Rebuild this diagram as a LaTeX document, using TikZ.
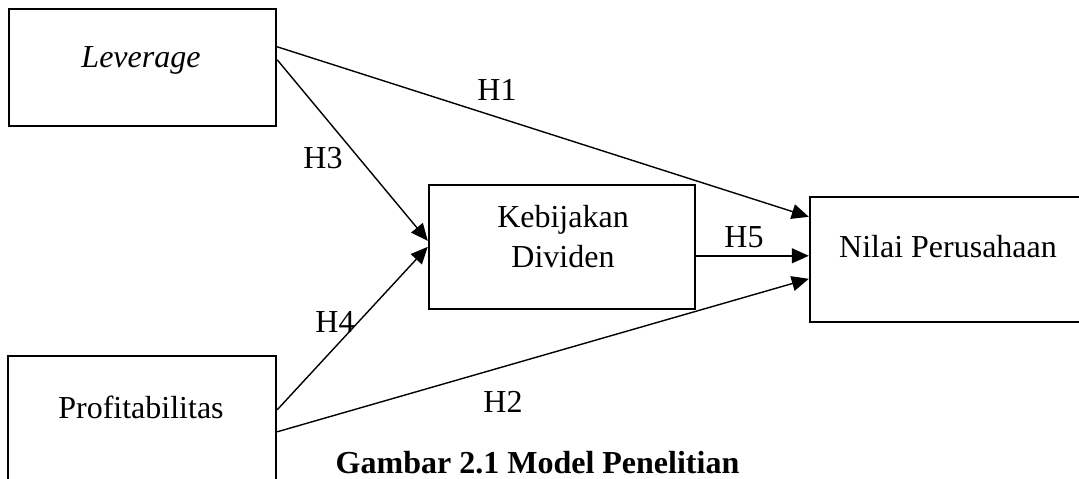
\documentclass[tikz,border=0pt]{standalone}
\usepackage{fontspec}
\setmainfont{Liberation Serif}
\usetikzlibrary{arrows.meta,calc}
\begin{document}
\begin{tikzpicture}[x=1pt,y=-1pt,
  box/.style={draw,line width=2.4pt,inner sep=0pt},
  lbl/.style={anchor=base,inner sep=0pt,align=center,font=\fontsize{32}{40}\selectfont},
  link/.style={line width=1.4pt,-{Triangle[length=17pt,width=15pt]}}]
\useasboundingbox (0,0) rectangle (1079,479);

% variable boxes
\node[box,minimum width=267pt,minimum height=117pt] (lev)  at (142.5,67.5) {};
\node[box,minimum width=268pt,minimum height=134pt] (prof) at (142,423) {};
\node[box,minimum width=266pt,minimum height=124pt] (keb)  at (562,247) {};
\node[box,minimum width=280pt,minimum height=125pt] (nil)  at (950,259.5) {};

% box texts (base of a two-line node is its last line)
\node[lbl] (levtxt)  at (141,67)  {\itshape Leverage};
\node[lbl] (proftxt) at (141,418) {Profitabilitas};
\node[lbl] (kebtxt)  at (563,267) {Kebijakan\\Dividen};
\node[lbl] (niltxt)  at (948,257) {Nilai Perusahaan};

% hypothesis paths
\draw[link] ($(lev.north east)+(0,39)$)  -- ($(nil.north west)+(0,21)$);
\draw[link] ($(lev.north east)+(0,52)$)  -- ($(keb.north west)+(0,57)$);
\draw[link] ($(prof.north east)+(0,55)$) -- ($(keb.north west)+(0,63)$);
\draw[link] ($(prof.north east)+(0,77)$) -- ($(nil.north west)+(0,83)$);
\draw[link] ($(keb.north east)+(0,72)$)  -- ($(nil.north west)+(0,60)$);

% hypothesis labels
\node[lbl] (h1) at (497,100) {H1};
\node[lbl] (h2) at (503,412) {H2};
\node[lbl] (h3) at (323,168) {H3};
\node[lbl] (h4) at (335,332) {H4};
\node[lbl] (h5) at (744,247) {H5};

% caption
\node[lbl,font=\bfseries\fontsize{32}{40}\selectfont] (caption) at (537.5,473) {Gambar 2.1 Model Penelitian};
\end{tikzpicture}
\end{document}
